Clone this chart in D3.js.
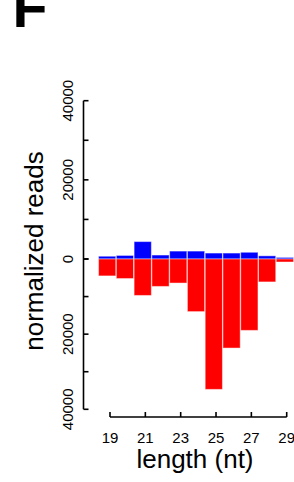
<!DOCTYPE html>
<html>
<head>
<meta charset="utf-8">
<script src="https://cdn.jsdelivr.net/npm/d3@7"></script>
<style>
  html, body { margin: 0; padding: 0; background: #fff; }
  svg { display: block; font-family: "Liberation Sans", Arial, Helvetica, sans-serif; }
</style>
</head>
<body>
<svg id="chart"></svg>
<script>
// read lengths (nt) and normalized reads per strand
const lengths = [19, 20, 21, 22, 23, 24, 25, 26, 27, 28, 29];
const senseReads = [700, 900, 4400, 1000, 2000, 2000, 1500, 1500, 1700, 800, 400];
const antisenseReads = [4500, 5200, 9700, 7300, 6400, 14000, 34700, 23700, 19000, 6100, 800];
const yTicks = [0, 10000, 20000, 30000, 40000];
const yLabels = [0, 20000, 40000];
const xTicks = [19, 21, 23, 25, 27, 29];

(function() {
    const width = 294;
    const height = 482;

    const svg = d3.select('#chart')
        .attr('width', width)
        .attr('height', height)
        .attr('viewBox', [0, 0, width, height]);

    // panel letter, its top runs past the edge like in the figure
    svg.append('text')
        .attr('x', 12.5)
        .attr('y', 27)
        .attr('font-size', 57)
        .attr('font-weight', 'bold')
        .text('F');

    const x = d3.scaleBand()
        .domain(lengths)
        .range([98.3, 98.3 + 11 * 17.77])
        .paddingInner(0.03)
        .paddingOuter(0.015);

    // upper half (sense) and lower half (antisense) have their own scales
    const yUp = d3.scaleLinear().domain([0, 40000]).range([259, 100.7]);
    const yDown = d3.scaleLinear().domain([0, 40000]).range([259, 409.3]);

    const xAxisScale = d3.scaleLinear().domain([19, 29]).range([110, 286.7]);

    const bars = svg.append('g')
        .attr('stroke', '#fff')
        .attr('stroke-opacity', 0.45)
        .attr('stroke-width', 1);

    bars.selectAll('rect.sense')
        .data(lengths)
        .enter().append('rect')
        .attr('class', 'sense')
        .attr('x', d => x(d))
        .attr('width', x.bandwidth())
        .attr('y', (d, i) => yUp(senseReads[i]))
        .attr('height', (d, i) => yUp(0) - yUp(senseReads[i]))
        .attr('fill', '#0000ff');

    bars.selectAll('rect.antisense')
        .data(lengths)
        .enter().append('rect')
        .attr('class', 'antisense')
        .attr('x', d => x(d))
        .attr('width', x.bandwidth())
        .attr('y', yDown(0))
        .attr('height', (d, i) => yDown(antisenseReads[i]) - yDown(0))
        .attr('fill', '#ff0000');

    // y axis
    const axisX = 83.5;
    const yAxis = svg.append('g')
        .attr('stroke', '#000')
        .attr('stroke-width', 1.6)
        .attr('fill', 'none');

    yAxis.append('line')
        .attr('x1', axisX).attr('x2', axisX)
        .attr('y1', yUp(40000)).attr('y2', yDown(40000));

    [yUp, yDown].forEach(scale => {
        yAxis.selectAll(null)
            .data(yTicks)
            .enter().append('line')
            .attr('x1', axisX).attr('x2', axisX + 5)
            .attr('y1', d => scale(d)).attr('y2', d => scale(d));
    });

    const labelData = yLabels.map(v => ({v, y: yUp(v)}))
        .concat(yLabels.filter(v => v > 0).map(v => ({v, y: yDown(v)})));

    svg.append('g')
        .selectAll('text')
        .data(labelData)
        .enter().append('text')
        .attr('transform', d => `translate(73,${d.y}) rotate(-90)`)
        .attr('text-anchor', 'middle')
        .attr('font-size', 15)
        .text(d => d.v);

    svg.append('text')
        .attr('transform', `translate(43,251) rotate(-90)`)
        .attr('text-anchor', 'middle')
        .attr('font-size', 26)
        .text('normalized reads');

    // x axis, ticks point up
    const axisY = 417;
    const xAxis = svg.append('g')
        .attr('stroke', '#000')
        .attr('stroke-width', 1.6);

    xAxis.append('line')
        .attr('x1', xAxisScale(19)).attr('x2', xAxisScale(29))
        .attr('y1', axisY).attr('y2', axisY);

    xAxis.selectAll(null)
        .data(xTicks)
        .enter().append('line')
        .attr('x1', d => xAxisScale(d)).attr('x2', d => xAxisScale(d))
        .attr('y1', axisY).attr('y2', axisY - 5);

    svg.append('g')
        .selectAll('text')
        .data(xTicks)
        .enter().append('text')
        .attr('x', d => xAxisScale(d))
        .attr('y', 442.5)
        .attr('text-anchor', 'middle')
        .attr('font-size', 15)
        .text(d => d);

    svg.append('text')
        .attr('x', 195)
        .attr('y', 468)
        .attr('text-anchor', 'middle')
        .attr('font-size', 26)
        .text('length (nt)');
})();
</script>
</body>
</html>
